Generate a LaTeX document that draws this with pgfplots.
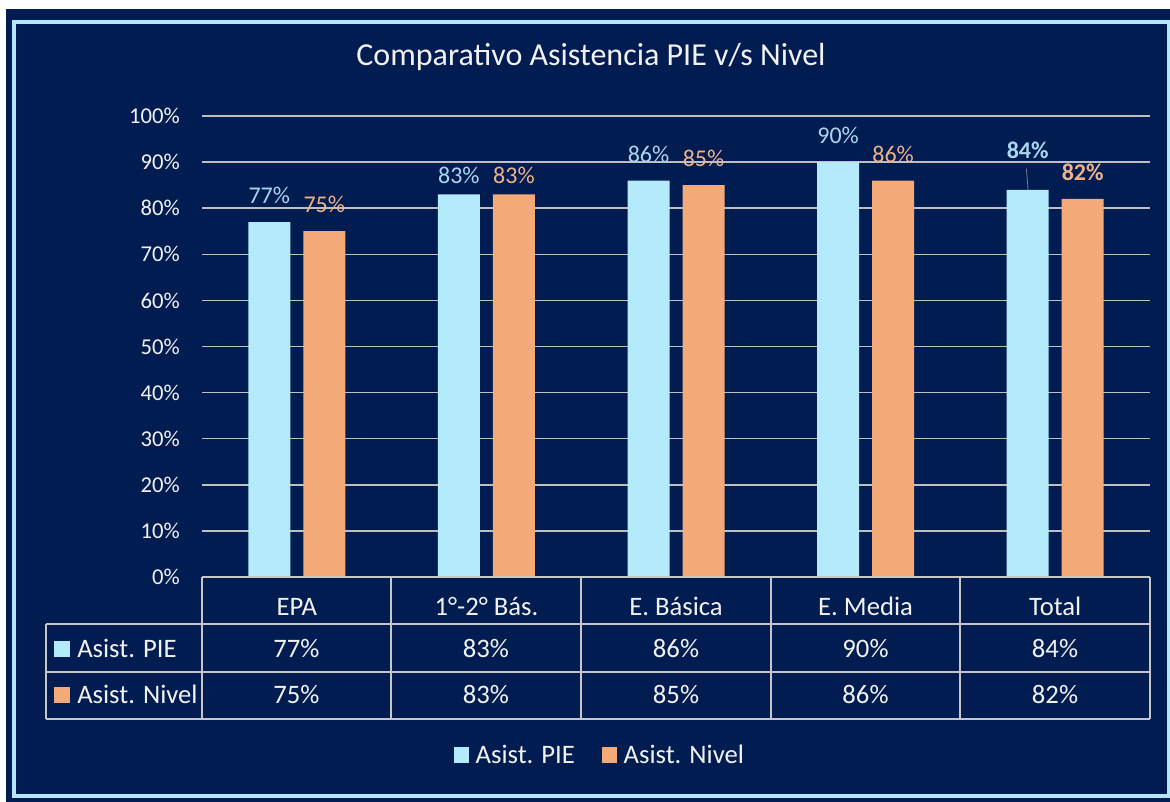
\documentclass[border=0pt]{standalone}
\usepackage{pgfplots}
\pgfplotsset{compat=1.18}
\usepackage{fontspec}
\setmainfont{Carlito}
\definecolor{navy}{HTML}{011C51}
\definecolor{frameblue}{HTML}{B4E6F8}
\definecolor{piebar}{HTML}{B3EBFC}
\definecolor{nivbar}{HTML}{F3AA78}
\definecolor{pielab}{HTML}{A9D6EE}
\definecolor{pielabb}{HTML}{C8E9F8}
\definecolor{nivlab}{HTML}{EDB28A}
\definecolor{gridc}{HTML}{BFBFBF}
\definecolor{tabc}{HTML}{C6C6C6}
\definecolor{txt}{HTML}{F2F2F2}
\newcommand{\tabfont}{\fontsize{20}{24}\selectfont}
\begin{document}
\begin{tikzpicture}
\begin{scope}[x=0.75pt,y=-0.75pt,shift={(0pt,601.5pt)}]
\fill[white] (0,0) rectangle (1170,802);
\fill[navy] (6,9) rectangle (1170,802);
\draw[frameblue, line width=3pt] (14,22.5) rectangle (1168.5,796);
\end{scope}
\begin{axis}[
  at={(151.5pt,168.75pt)}, anchor=south west,
  scale only axis, width=711pt, height=345.75pt,
  ybar=9.75pt, bar width=31.5pt,
  xmin=-0.5, xmax=4.5, ymin=0, ymax=100,
  clip=false,
  axis line style={draw=none}, tick style={draw=none},
  ymajorgrids, grid style={gridc, line width=1.1pt},
  ytick={0,10,...,100},
  yticklabel={\pgfmathprintnumber{\tick}\%},
  /pgf/number format/assume math mode=true,
  yticklabel style={font=\fontsize{17}{20}\selectfont, text=txt, inner sep=0pt, xshift=-16.5pt},
  xtick={0,1,2,3,4},
  xticklabels={EPA, 1°-2° Bás., E. Básica, E. Media, Total},
  xticklabel style={font=\tabfont, text=txt, anchor=base, inner sep=0pt, yshift=-24.75pt},
  title={Comparativo Asistencia PIE v/s Nivel},
  title style={at={(0.4103,1.0911)}, anchor=base, font=\fontsize{24}{28}\selectfont, text=txt},
  visualization depends on={rawx \as \myx},
  nodes near coords={\ifdim\myx pt>3.5pt\bfseries\fi\pgfmathprintnumber{\pgfplotspointmeta}\%},
  every node near coord/.append style={font=\fontsize{18}{20}\selectfont, anchor=south, inner sep=0pt, yshift=13.5pt},
  legend style={at={(0.42,-0.386)}, anchor=center, draw=none, fill=none, text=txt, font=\tabfont, legend columns=2, /tikz/every even column/.append style={column sep=18pt}},
  legend image code/.code={\fill[#1] (0pt,-6pt) rectangle (11.5pt,6pt); \path (14.5pt,0pt);},
]
\addplot[fill=piebar, draw=none,
  every node near coord/.append style={text=pielab},
  coordinate style/.condition={x==1}{yshift=-6pt},
  coordinate style/.condition={x==4}{yshift=9.75pt, text=pielabb}]
  coordinates {(0,77) (1,83) (2,86) (3,90) (4,84)};
\addplot[fill=nivbar, draw=none,
  every node near coord/.append style={text=nivlab},
  coordinate style/.condition={x==1}{yshift=-6pt}]
  coordinates {(0,75) (1,83) (2,85) (3,86) (4,82)};
\legend{Asist. PIE, Asist. Nivel}
\draw[gray, line width=0.6pt] (axis cs:3.857,84) -- (axis cs:3.848,88.6);
\end{axis}
\begin{scope}[x=0.75pt,y=-0.75pt,shift={(0pt,601.5pt)}]
\draw[tabc, line width=1.2pt] (202,577) -- (1150,577);
\foreach \yy in {624,672,719} \draw[tabc, line width=1.2pt] (46,\yy) -- (1150,\yy);
\draw[tabc, line width=1.2pt] (46,624) -- (46,719);
\foreach \xx in {202,391,581,771,960,1150} \draw[tabc, line width=1.2pt] (\xx,577) -- (\xx,719);
\fill[piebar] (54,641) rectangle (70,657);
\fill[nivbar] (54,687) rectangle (70,703);
\node[anchor=base west, inner sep=0pt, text=txt, font=\tabfont] at (77,658) {Asist. PIE};
\node[anchor=base west, inner sep=0pt, text=txt, font=\tabfont] at (77,704) {Asist. Nivel};
\foreach \xx/\va/\vb in {296.5/77/75, 486/83/83, 676/86/85, 865.5/90/86, 1055/84/82} {
  \node[anchor=base, inner sep=0pt, text=txt, font=\tabfont] at (\xx,658) {\va\%};
  \node[anchor=base, inner sep=0pt, text=txt, font=\tabfont] at (\xx,704) {\vb\%};
}
\end{scope}
\pgfresetboundingbox
\useasboundingbox (0,0) rectangle (877.5pt,601.5pt);
\end{tikzpicture}
\end{document}
